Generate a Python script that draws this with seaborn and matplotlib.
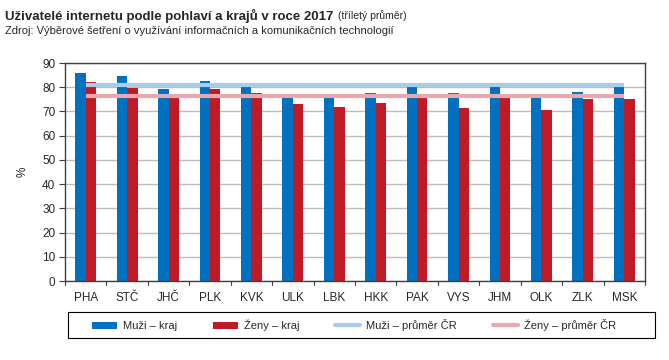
import matplotlib
matplotlib.use("Agg")
import matplotlib.pyplot as plt
import matplotlib.transforms as mtransforms
import seaborn as sns
import pandas as pd
from matplotlib.patches import Patch, Rectangle
from matplotlib.lines import Line2D

regions = ["PHA", "STČ", "JHČ", "PLK", "KVK", "ULK", "LBK", "HKK", "PAK", "VYS", "JHM", "OLK", "ZLK", "MSK"]
muzi = [85.9, 84.6, 79.3, 82.6, 80.1, 77.2, 77.2, 77.6, 80.1, 77.6, 80.1, 75.9, 78.0, 80.1]
zeny = [82.2, 79.7, 75.8, 79.3, 77.6, 73.1, 71.8, 73.5, 75.7, 71.4, 75.7, 70.6, 75.1, 75.1]
muzi_cr = 80.8
zeny_cr = 76.3
series = ["Muži – kraj", "Ženy – kraj", "Muži – průměr ČR", "Ženy – průměr ČR"]
yticks = [0, 10, 20, 30, 40, 50, 60, 70, 80, 90]

c_blue = "#0070C0"
c_red = "#C01A26"
c_lblue = "#A8CDE8"
c_pink = "#E8A9AE"

sns.set_theme(style="white")
plt.rcParams['font.family'] = ['Liberation Sans', 'DejaVu Sans']
plt.rcParams['axes.grid'] = False

df = pd.DataFrame({
    "kraj": regions * 2,
    "hodnota": muzi + zeny,
    "serie": [series[0]] * len(regions) + [series[1]] * len(regions),
})

fig = plt.figure(figsize=(6.69, 3.6), dpi=100)
ax = fig.add_axes([65 / 669, 1 - 281 / 360, 580 / 669, 218 / 360])

sns.barplot(data=df, x="kraj", y="hodnota", hue="serie", order=regions,
            palette=[c_blue, c_red], width=0.5, gap=0, saturation=1,
            ax=ax, legend=False, linewidth=0, errorbar=None)

ax.plot([0, len(regions) - 1], [muzi_cr, muzi_cr], color=c_lblue, lw=3, zorder=3, solid_capstyle="butt")
ax.plot([0, len(regions) - 1], [zeny_cr, zeny_cr], color=c_pink, lw=3, zorder=3, solid_capstyle="butt")

ax.set_xlim(-0.5, len(regions) - 0.5)
ax.set_ylim(0, 90)
ax.set_yticks(yticks)
ax.set_yticklabels([str(t) for t in yticks], fontsize=8.5)
ax.set_xticks(range(len(regions)))
ax.set_xticklabels(regions, fontsize=8.5)
ax.set_xlabel("")
ax.set_ylabel("%", fontsize=8.5, labelpad=10)
ax.tick_params(axis="y", left=True, length=4, width=0.8, color="#404040", pad=3)
ax.tick_params(axis="x", bottom=True, length=0, pad=8)

# horizontal gridlines behind bars
ax.yaxis.grid(True, color="#BDBDBD", lw=1)
ax.xaxis.grid(False)
ax.set_axisbelow(True)

# small category-boundary tick marks under the x axis
trans = mtransforms.blended_transform_factory(ax.transData, ax.transAxes)
for i in range(len(regions) + 1):
    ax.add_line(Line2D([i - 0.5, i - 0.5], [0, -0.018], transform=trans, color="#404040",
                       lw=0.8, clip_on=False))

for s in ax.spines.values():
    s.set_color("#404040")
    s.set_linewidth(1)

handles = [
    Patch(facecolor=c_blue, edgecolor="none"),
    Patch(facecolor=c_red, edgecolor="none"),
    Line2D([0], [0], color=c_lblue, lw=3),
    Line2D([0], [0], color=c_pink, lw=3),
]
fig.patches.append(Rectangle((68 / 669, 1 - 338 / 360), 587 / 669, 26 / 360,
                             transform=fig.transFigure, fill=False,
                             edgecolor="black", linewidth=0.8))
leg = fig.legend(handles, series, loc="center", bbox_to_anchor=(354 / 669, 1 - 325 / 360),
                 ncol=4, fontsize=8, frameon=False,
                 handlelength=2.25, handleheight=0.6, handletextpad=0.55, columnspacing=3.2)

t1 = fig.text(5 / 669, 1 - 16 / 360, "Uživatelé internetu podle pohlaví a krajů v roce 2017",
              fontsize=9.5, fontweight="bold", va="center", ha="left")
fig.canvas.draw()
bb = t1.get_window_extent(renderer=fig.canvas.get_renderer())
fig.text((bb.x1 + 4) / 669, 1 - 16 / 360, "(tříletý průměr)", fontsize=7.5, va="center", ha="left")
fig.text(5 / 669, 1 - 31 / 360, "Zdroj: Výběrové šetření o využívání informačních a komunikačních technologií",
         fontsize=8, va="center", ha="left")

fig.savefig("out.png", dpi=100)
